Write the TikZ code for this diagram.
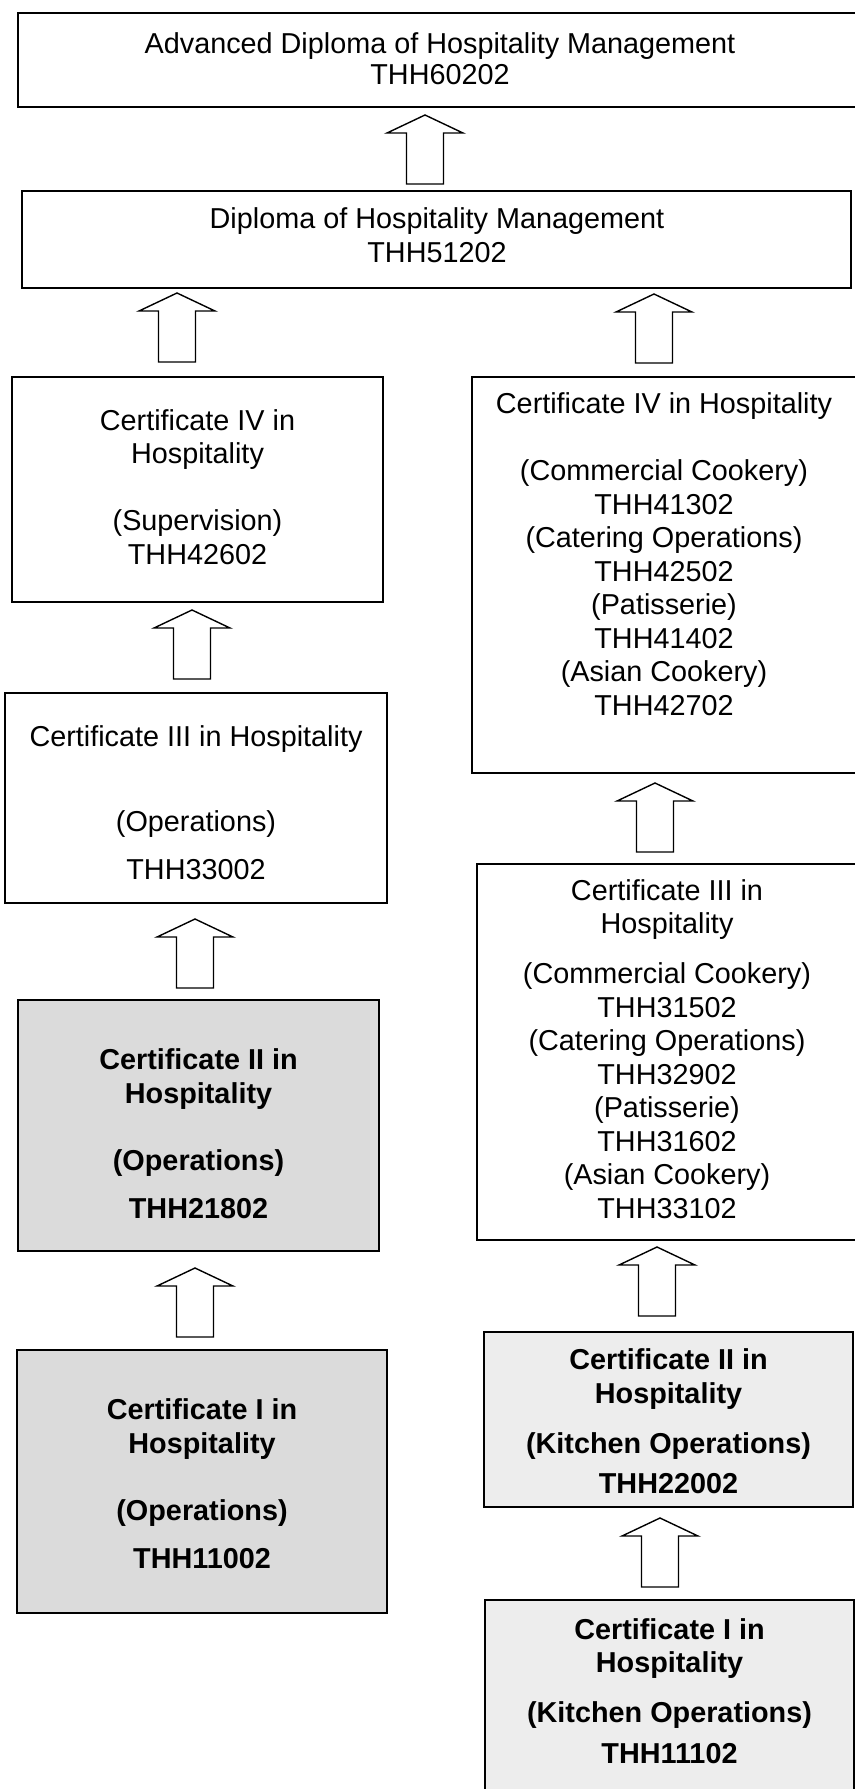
\documentclass[tikz,border=0pt]{standalone}
\usepackage{fontspec}
\setmainfont{Liberation Sans}
\usetikzlibrary{fit}

\tikzset{
  certbox/.style={draw, line width=1pt, inner sep=0pt},
  darkbox/.style={certbox, fill=black!14},
  palebox/.style={certbox, fill=black!7},
  certtext/.style={align=center, anchor=base, inner sep=0pt},
  boldtext/.style={certtext, font=\fontsize{14.4pt}{16.75pt}\selectfont\bfseries},
  arrowline/.style={draw, line width=0.7pt, fill=white},
  uparrow/.pic={\draw[arrowline] (-18.5,0) -- (-18.5,-51) -- (-38,-51) -- (0,-69)
      -- (38,-51) -- (18.5,-51) -- (18.5,0) -- cycle;}
}

\begin{document}
\begin{tikzpicture}[x=0.5pt, y=-0.5pt]
\tikzstyle{every node}=[font=\fontsize{14.4pt}{16.75pt}\selectfont]
\useasboundingbox (0,0) rectangle (855,1789);

% boxes
\node[certbox, fit={(18,13) (862,107)}] (advdip) {};
\node[certbox, fit={(22,191) (851,288)}] (dip) {};
\node[certbox, fit={(12,377) (383,602)}] (cfourops) {};
\node[certbox, fit={(472,377) (857,773)}] (cfourkit) {};
\node[certbox, fit={(5,693) (387,903)}] (cthreeops) {};
\node[certbox, fit={(477,864) (857,1240)}] (cthreekit) {};
\node[darkbox, fit={(18,1000) (379,1251)}] (ctwoops) {};
\node[palebox, fit={(484,1332) (853,1507)}] (ctwokit) {};
\node[darkbox, fit={(17,1350) (387,1613)}] (coneops) {};
\node[palebox, fit={(485,1600) (854,1800)}] (conekit) {};

% texts (placed at the baseline of the last line)
\node[certtext] (advdiptext) at (440,84) {Advanced Diploma of Hospitality Management\\[-1.25pt] THH60202};
\node[certtext] (diptext) at (437,262) {Diploma of Hospitality Management\\ THH51202};
\node[certtext] (cfouropstext) at (197.5,564) {Certificate IV in\\ Hospitality\\[16.75pt] (Supervision)\\ THH42602};
\node[certtext] (cfourkittext) at (664,715) {Certificate IV in Hospitality\\[16.75pt]
  (Commercial Cookery)\\ THH41302\\ (Catering Operations)\\ THH42502\\
  (Patisserie)\\ THH41402\\ (Asian Cookery)\\ THH42702};
\node[certtext] (cthreeopstext) at (196,879) {Certificate III in Hospitality\\[25.5pt] (Operations)\\[7.25pt] THH33002};
\node[certtext] (cthreekittext) at (667,1218) {Certificate III in\\ Hospitality\\[8.25pt]
  (Commercial Cookery)\\ THH31502\\ (Catering Operations)\\ THH32902\\
  (Patisserie)\\ THH31602\\ (Asian Cookery)\\ THH33102};
\node[boldtext] (ctwoopstext) at (198.5,1218) {Certificate II in\\ Hospitality\\[16.75pt] (Operations)\\[7.25pt] THH21802};
\node[boldtext] (ctwokittext) at (668.5,1493) {Certificate II in\\ Hospitality\\[8.25pt] (Kitchen Operations)\\[3.25pt] THH22002};
\node[boldtext] (coneopstext) at (202,1568) {Certificate I in\\ Hospitality\\[16.75pt] (Operations)\\[7.25pt] THH11002};
\node[boldtext] (conekittext) at (669.5,1763) {Certificate I in\\ Hospitality\\[8.25pt] (Kitchen Operations)\\[3.5pt] THH11102};

% arrows
\pic (upone) at (425,184) {uparrow};
\pic (uptwol) at (177,362) {uparrow};
\pic (uptwor) at (654,363) {uparrow};
\pic (upthreel) at (192,679) {uparrow};
\pic (upthreer) at (655,852) {uparrow};
\pic (upfourl) at (195,988) {uparrow};
\pic (upfourr) at (657,1316) {uparrow};
\pic (upfivel) at (195,1337) {uparrow};
\pic (upfiver) at (660,1587) {uparrow};
\end{tikzpicture}
\end{document}
